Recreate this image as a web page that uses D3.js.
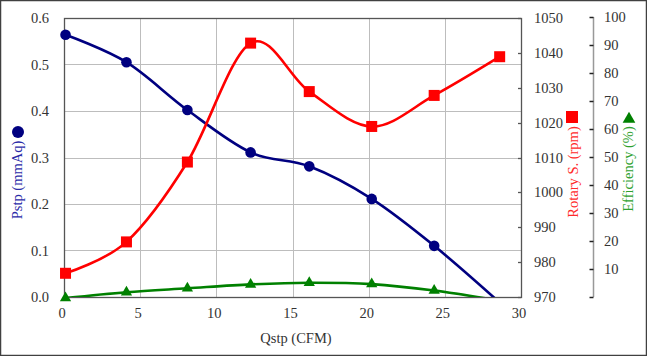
<!DOCTYPE html>
<html><head><meta charset="utf-8">
<script src="https://cdn.jsdelivr.net/npm/d3@7"></script>
<style>
html,body{margin:0;padding:0;background:#fff;}
svg{display:block;font-family:"Liberation Serif","Times New Roman",serif;}
</style></head>
<body>
<svg id="chart" width="647" height="356"></svg>
<script>
// ---- data ----
const qstp = [0.1, 4.1, 8.1, 12.25, 16.1, 20.2, 24.3, 28.6];
const pstp = [0.564, 0.505, 0.402, 0.311, 0.281, 0.211, 0.110, -0.012];
const rpm = [976.8, 985.8, 1008.7, 1042.8, 1028.9, 1018.9, 1027.8, 1038.9];
const efficiency = [-0.4, 1.7, 3.1, 4.5, 5.1, 4.6, 2.3, -1.3];
const xTicks = [0, 5, 10, 15, 20, 25, 30];
const pTicks = [0, 0.1, 0.2, 0.3, 0.4, 0.5, 0.6];
const rTicks = [970, 980, 990, 1000, 1010, 1020, 1030, 1040, 1050];
const eTicks = [0, 10, 20, 30, 40, 50, 60, 70, 80, 90, 100];

const svg = d3.select("#chart");
const W = 647, H = 356;
const L = 64, R = 521, T = 18, B = 297;

svg.append("rect").attr("x", 0.5).attr("y", 0.5).attr("width", W - 1).attr("height", H - 1)
  .attr("fill", "#fff").attr("stroke", "#404040").attr("stroke-width", 1.5);

const x = d3.scaleLinear().domain([0, 30]).range([L, R]);
const yP = d3.scaleLinear().domain([0, 0.6]).range([B, T]);
const yR = d3.scaleLinear().domain([970, 1050]).range([B, T]);
const yE = d3.scaleLinear().domain([0, 100]).range([B, 17]);

// grid
const grid = svg.append("g").attr("stroke", "#bdbdbd").attr("stroke-width", 1);
grid.selectAll("line.v").data(xTicks.slice(1, -1)).join("line")
  .attr("x1", d => Math.round(x(d)) + 0.5).attr("x2", d => Math.round(x(d)) + 0.5)
  .attr("y1", T).attr("y2", B);
grid.selectAll("line.h").data(pTicks.slice(1, -1)).join("line")
  .attr("y1", d => Math.round(yP(d)) + 0.5).attr("y2", d => Math.round(yP(d)) + 0.5)
  .attr("x1", L).attr("x2", R);

// plot frame
svg.append("rect").attr("x", L + 0.5).attr("y", T + 0.5).attr("width", R - L).attr("height", B - T)
  .attr("fill", "none").attr("stroke", "#555").attr("stroke-width", 1.3);

const fs = "14.5px";
// left axis labels
svg.append("g").selectAll("text").data(pTicks).join("text")
  .attr("x", 49).attr("y", d => yP(d)).attr("dy", "0.35em").attr("text-anchor", "end")
  .attr("font-size", fs).attr("fill", "#333").text(d => d.toFixed(1));
// bottom labels
svg.append("g").selectAll("text").data(xTicks).join("text")
  .attr("x", d => x(d) - 2).attr("y", 313).attr("dy", "0.35em").attr("text-anchor", "middle")
  .attr("font-size", fs).attr("fill", "#333").text(d => d);

// rpm axis (right of plot)
const gR = svg.append("g");
gR.selectAll("line").data(rTicks).join("line")
  .attr("x1", R - 3).attr("x2", R).attr("y1", d => Math.round(yR(d)) + 0.5).attr("y2", d => Math.round(yR(d)) + 0.5)
  .attr("stroke", "#555").attr("stroke-width", 1.3);
gR.selectAll("text").data(rTicks).join("text")
  .attr("x", 534).attr("y", d => yR(d)).attr("dy", "0.35em")
  .attr("font-size", fs).attr("fill", "#333").text(d => d);

// efficiency axis
const EX = 593.5;
const gE = svg.append("g");
gE.append("line").attr("x1", EX).attr("x2", EX).attr("y1", yE(100)).attr("y2", yE(0))
  .attr("stroke", "#999").attr("stroke-width", 1.5);
gE.selectAll("line.t").data(eTicks).join("line")
  .attr("x1", EX - 4).attr("x2", EX).attr("y1", d => Math.round(yE(d)) + 0.5).attr("y2", d => Math.round(yE(d)) + 0.5)
  .attr("stroke", "#222").attr("stroke-width", 1.5);
gE.selectAll("text").data(eTicks.slice(1)).join("text")
  .attr("x", 604).attr("y", d => yE(d)).attr("dy", "0.35em")
  .attr("font-size", fs).attr("fill", "#333").text(d => d);

// axis titles
svg.append("text").attr("x", 296).attr("y", 338).attr("dy", "0.35em").attr("text-anchor", "middle")
  .attr("font-size", fs).attr("fill", "#333").text("Qstp (CFM)");
svg.append("text").attr("transform", "translate(17,180) rotate(-90)").attr("dy", "0.35em")
  .attr("text-anchor", "middle").attr("font-size", fs).attr("fill", "#2b2ba8").text("Pstp (mmAq)");
svg.append("circle").attr("cx", 18).attr("cy", 132).attr("r", 6).attr("fill", "#000080");
svg.append("text").attr("transform", "translate(573,172) rotate(-90)").attr("dy", "0.35em")
  .attr("text-anchor", "middle").attr("font-size", fs).attr("fill", "#ff2a2a").text("Rotary S. (rpm)");
svg.append("rect").attr("x", 566).attr("y", 111).attr("width", 12).attr("height", 12).attr("fill", "#ff0000");
svg.append("text").attr("transform", "translate(628,169) rotate(-90)").attr("dy", "0.35em")
  .attr("text-anchor", "middle").attr("font-size", fs).attr("fill", "#2ea12e").text("Efficiency (%)");
svg.append("path").attr("d", d3.symbol(d3.symbolTriangle, 70)()).attr("transform", "translate(629,119)")
  .attr("fill", "#008000");

// clip for lines
svg.append("clipPath").attr("id", "clip").append("rect")
  .attr("x", L).attr("y", 0).attr("width", R - L).attr("height", B);

const curve = d3.curveCardinal.tension(0);
function series(vals, yScale, color, tol) {
  const pts = qstp.map((q, i) => [x(q), yScale(vals[i]), vals[i]]);
  svg.append("path").attr("clip-path", "url(#clip)")
    .attr("d", d3.line().curve(curve)(pts.map(p => [p[0], p[1]])))
    .attr("fill", "none").attr("stroke", color).attr("stroke-width", 2.6);
  return pts.filter(p => p[2] >= yScale.domain()[0] - tol);
}
const pP = series(pstp, yP, "#000080", 0.006);
const pR = series(rpm, yR, "#ff0000", 1);
const pE = series(efficiency, yE, "#008000", 1);

svg.append("g").selectAll("circle").data(pP).join("circle")
  .attr("cx", d => d[0]).attr("cy", d => d[1]).attr("r", 5.3).attr("fill", "#000080");
svg.append("g").selectAll("rect").data(pR).join("rect")
  .attr("x", d => d[0] - 5.5).attr("y", d => d[1] - 5.5).attr("width", 11).attr("height", 11).attr("fill", "#ff0000");
svg.append("g").selectAll("path").data(pE).join("path")
  .attr("d", d3.symbol(d3.symbolTriangle, 55)())
  .attr("transform", d => `translate(${d[0]},${d[1]})`).attr("fill", "#008000");
</script>
</body></html>
